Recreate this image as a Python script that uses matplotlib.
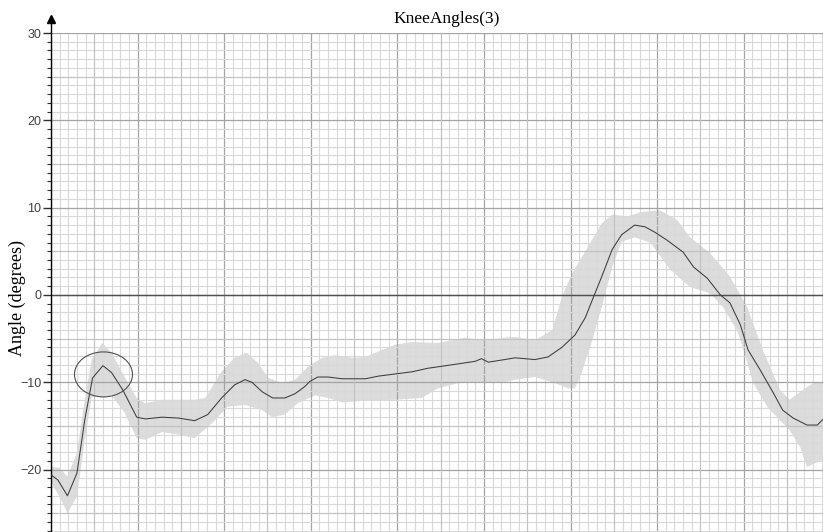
import matplotlib
matplotlib.use('Agg')
import matplotlib.pyplot as plt
from matplotlib.patches import Ellipse
from matplotlib.ticker import MultipleLocator
import numpy as np

# Mean knee angle over the cycle (x in grid units, y in degrees)
x_mean = [0.0, 0.8, 1.9, 3.0, 3.9, 4.8, 6.0, 7.0, 8.3, 9.9, 10.9, 12.8, 14.7, 16.6, 18.1,
          19.7, 21.2, 22.4, 23.2, 24.4, 25.6, 27.0, 28.2, 29.3, 29.9, 30.8, 32.0, 33.6,
          36.3, 37.8, 41.7, 43.5, 46.3, 49.0, 49.7, 50.5, 52.4, 53.6, 55.9, 57.4, 59.0,
          60.5, 61.7, 62.5, 63.6, 64.8, 65.9, 67.4, 68.6, 69.7, 71.1, 73.0, 74.2, 75.8,
          77.3, 78.4, 79.6, 80.5, 81.9, 83.4, 84.5, 85.7, 87.3, 88.5, 89.1]
angle_mean = [-20.6, -21.2, -23.0, -20.4, -14.3, -9.5, -8.1, -8.9, -10.9, -14.0, -14.2,
              -14.0, -14.1, -14.4, -13.7, -11.8, -10.3, -9.7, -10.0, -11.1, -11.8, -11.8,
              -11.3, -10.5, -9.9, -9.4, -9.4, -9.6, -9.6, -9.3, -8.8, -8.4, -8.0, -7.6,
              -7.3, -7.7, -7.4, -7.2, -7.4, -7.1, -6.0, -4.6, -2.6, -0.6, 2.1, 5.2, 6.9,
              8.0, 7.8, 7.2, 6.3, 4.9, 3.2, 1.9, 0.0, -0.9, -3.4, -6.3, -8.6, -11.2,
              -13.2, -14.1, -14.9, -14.9, -14.3]

# Upper edge of the spread band
x_upper = [0.0, 1.0, 1.9, 3.0, 3.9, 4.7, 5.9, 7.0, 8.5, 9.9, 10.9, 12.8, 16.6, 17.8,
           19.7, 21.2, 22.6, 23.9, 25.1, 26.7, 28.2, 29.7, 31.3, 32.8, 34.8, 36.3, 39.7,
           41.7, 44.7, 47.8, 50.1, 52.4, 53.6, 55.9, 57.9, 59.0, 60.2, 62.0, 63.6, 64.8,
           66.6, 68.2, 70.3, 72.3, 73.8, 76.1, 78.4, 80.4, 82.2, 84.2, 85.3, 86.8, 88.0,
           89.1]
band_upper = [-19.7, -19.8, -20.8, -18.1, -12.0, -7.4, -5.5, -6.6, -9.4, -11.8, -12.4,
              -12.0, -12.0, -11.8, -8.8, -7.2, -6.6, -7.8, -9.5, -10.1, -9.7, -8.2, -7.2,
              -6.9, -7.2, -7.1, -5.7, -5.4, -5.5, -4.9, -5.2, -4.9, -4.8, -5.2, -4.0,
              -0.2, 2.5, 5.5, 8.2, 9.2, 9.0, 9.5, 9.7, 8.6, 6.6, 4.8, 2.1, -1.4, -6.3,
              -10.9, -12.0, -10.9, -10.1, -10.0]

# Lower edge of the spread band
x_lower = [0.0, 1.0, 1.9, 3.0, 3.9, 4.7, 5.9, 7.0, 8.5, 9.9, 10.9, 12.8, 14.7, 16.6,
           18.6, 20.4, 22.4, 24.4, 25.5, 27.0, 28.5, 30.5, 32.0, 33.6, 36.3, 39.7, 42.8,
           44.7, 47.0, 50.1, 52.4, 53.6, 55.9, 58.2, 59.7, 60.5, 61.3, 62.5, 63.6, 64.8,
           65.9, 67.4, 69.2, 71.5, 73.8, 76.1, 77.6, 79.2, 79.8, 81.1, 82.7, 85.3, 86.5,
           87.3, 89.1]
band_lower = [-21.5, -23.1, -25.0, -23.1, -16.6, -11.7, -11.7, -11.5, -13.5, -16.4,
              -16.6, -15.7, -16.0, -16.4, -14.7, -12.8, -12.6, -13.2, -14.0, -13.7, -12.4,
              -11.5, -11.8, -12.3, -12.1, -12.0, -11.8, -10.7, -10.1, -10.0, -10.0, -9.7,
              -9.4, -10.1, -10.7, -10.7, -8.9, -5.2, -1.4, 3.2, 6.1, 6.6, 6.0, 2.9, 0.9,
              0.2, -1.4, -4.0, -5.7, -10.1, -12.8, -15.5, -17.4, -19.7, -18.9]

y_ticks = [-20, -10, 0, 10, 20, 30]

fig = plt.figure(figsize=(8.23, 5.32), dpi=100)
ax = fig.add_axes([51 / 823, 0.0, 1 - 51 / 823, (532 - 33) / 532])
ax.set_xlim(0, 89.15)
ax.set_ylim(-27.15, 30)

# spread band and mean curve
poly_x = np.concatenate([x_upper, x_lower[::-1]])
poly_y = np.concatenate([band_upper, band_lower[::-1]])
ax.fill(poly_x, poly_y, color='#dcdcdc', lw=0, zorder=0.2)
ax.plot(x_mean, angle_mean, color='#3c3c3c', lw=0.75, zorder=3)

# graph-paper grid
ax.xaxis.set_major_locator(MultipleLocator(10))
ax.xaxis.set_minor_locator(MultipleLocator(1))
ax.yaxis.set_major_locator(MultipleLocator(10))
ax.yaxis.set_minor_locator(MultipleLocator(1))
ax.set_yticks(y_ticks)
ax.grid(which='minor', color='#d9d9d9', lw=0.8)
ax.grid(which='major', color='#a4a4a4', lw=0.9)
ax.set_axisbelow(True)
for v in np.arange(5, 90, 10):
    ax.axvline(v, color='#c2c2c2', lw=0.8, zorder=0.6)
for v in np.arange(-25, 30, 10):
    ax.axhline(v, color='#c2c2c2', lw=0.8, zorder=0.6)
ax.axhline(0, color='#505050', lw=1.0, zorder=0.7)

# left axis with arrowhead
for s in ['top', 'right', 'bottom']:
    ax.spines[s].set_visible(False)
ax.spines['left'].set_color('black')
ax.spines['left'].set_linewidth(1.0)
ax.plot([0, 0], [30, 31.3], color='black', lw=1.0, clip_on=False, zorder=5)
ax.plot([0], [31.6], marker='^', color='black', markersize=6, clip_on=False, zorder=5)

ax.tick_params(axis='x', which='both', length=0, labelbottom=False)
ax.tick_params(axis='y', which='major', length=6, width=1.0, direction='out',
               pad=1, labelsize=9, labelcolor='#404040', color='#303030')
ax.tick_params(axis='y', which='minor', length=3, width=0.8, direction='out',
               color='#303030')
for lab in ax.get_yticklabels():
    lab.set_family('Liberation Sans')

# circled peak
ax.add_patch(Ellipse((6.06, -9.1), 6.7, 5.15, fill=False, edgecolor='#505050',
                     lw=0.8, zorder=4))

fig.text(447 / 823, 1 - 19 / 532, 'KneeAngles(3)', family='Liberation Serif',
         fontsize=12.5, ha='center', va='center')
fig.text(17 / 823, 1 - 298 / 532, 'Angle (degrees)', family='Liberation Serif',
         fontsize=13, rotation=90, ha='center', va='center')

fig.savefig('out.png', dpi=100)
